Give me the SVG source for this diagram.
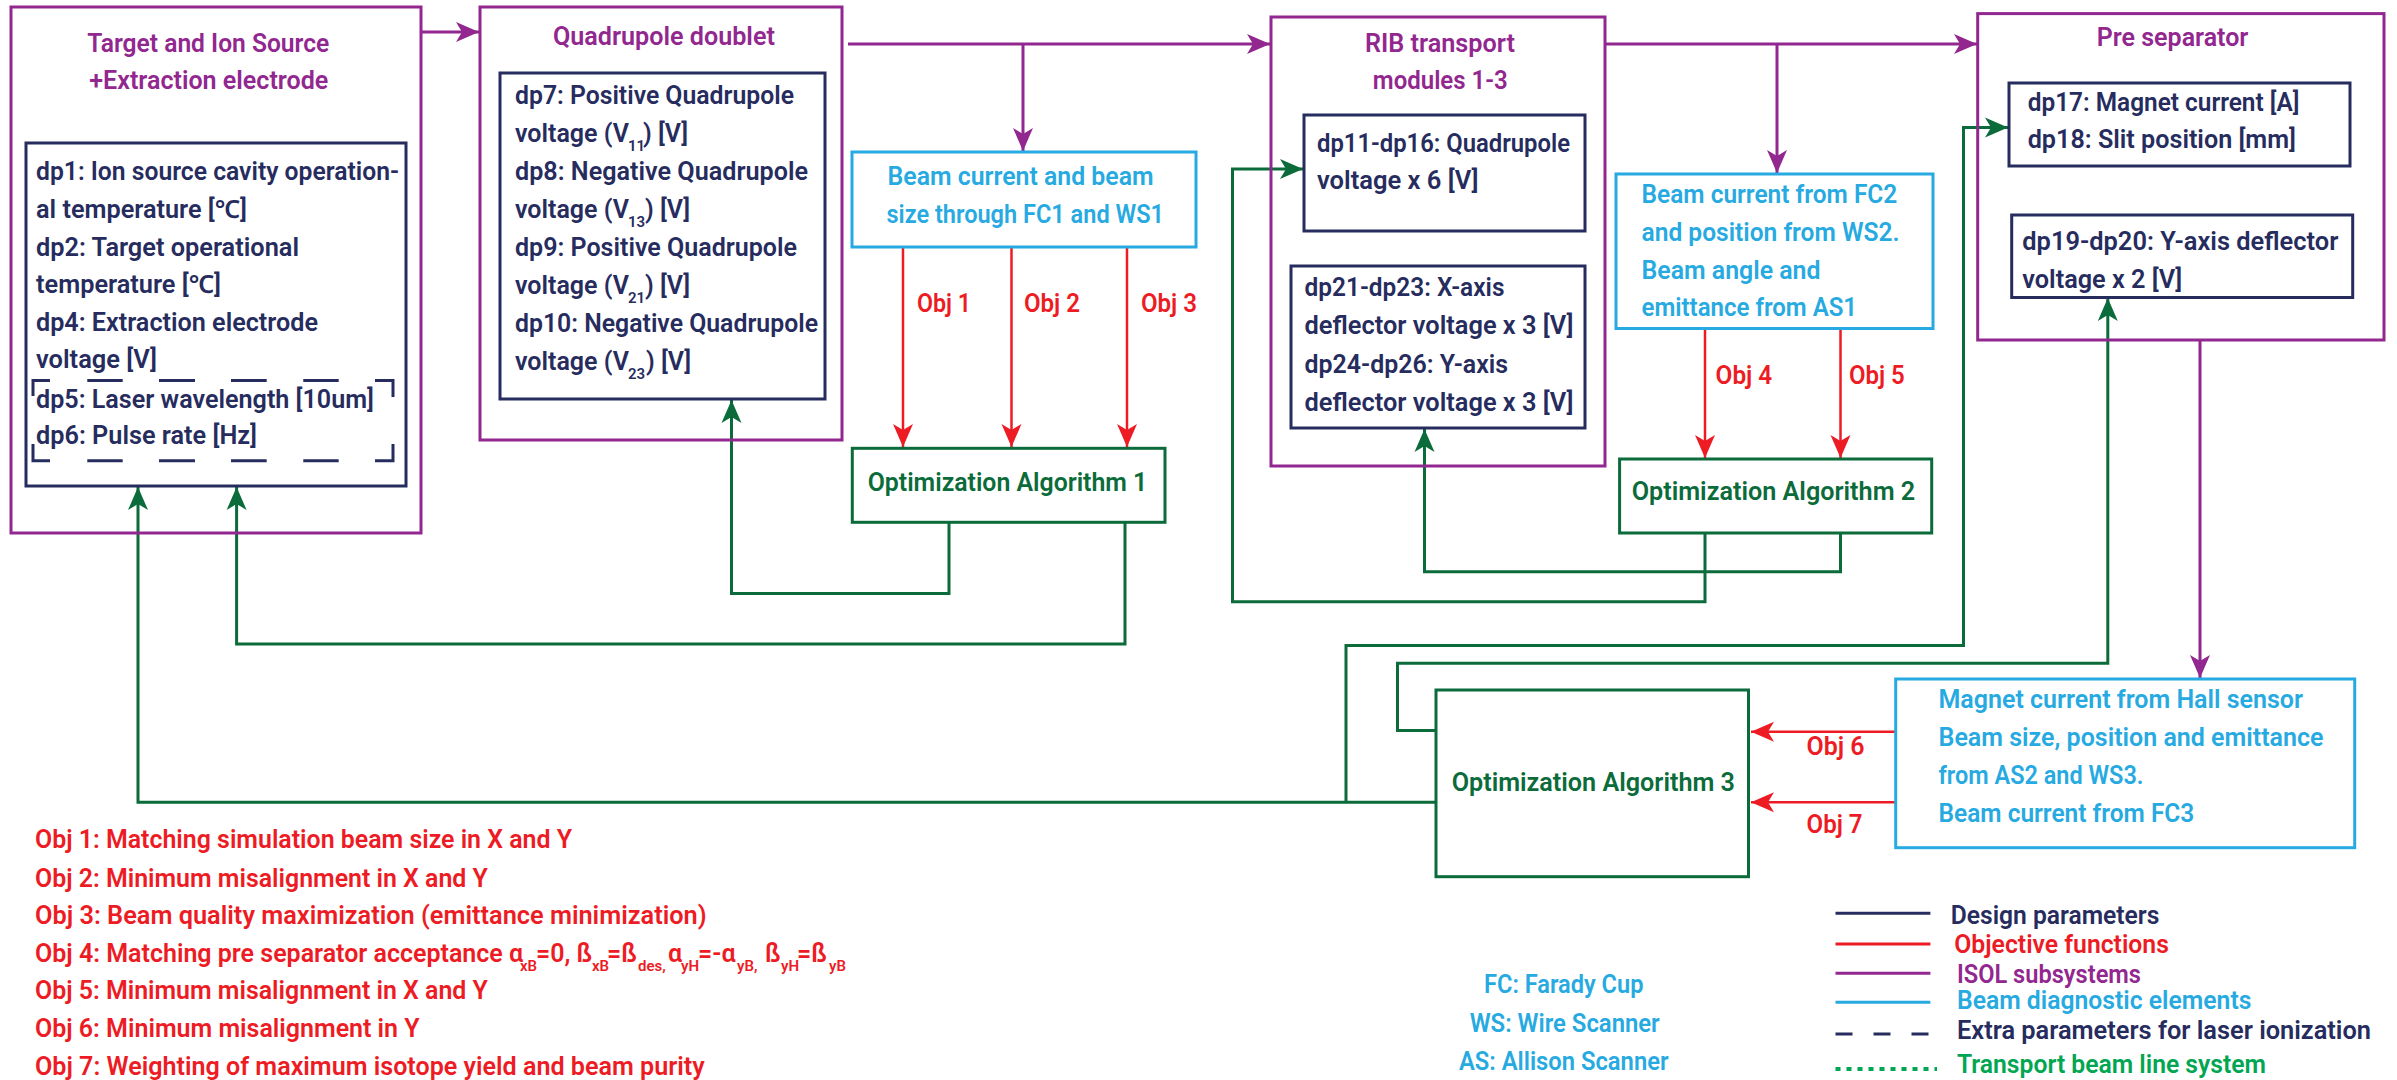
<svg xmlns="http://www.w3.org/2000/svg" width="2397" height="1080" viewBox="0 0 2397 1080">
<style>
.t{font-family:Roboto,"Noto Sans","Liberation Sans",sans-serif;font-size:25px;font-weight:600}
.s{font-size:15px}
.pu{fill:#92278f}.nv{fill:#262c5e}.rd{fill:#ed1c24}.cy{fill:#27aae1}.gr{fill:#0b6b3a}.bg{fill:#00a651}
.bxp{fill:none;stroke:#92278f;stroke-width:3}
.bxn{fill:none;stroke:#262c5e;stroke-width:3}
.bxc{fill:none;stroke:#27aae1;stroke-width:3}
.bxg{fill:none;stroke:#0b6b3a;stroke-width:3}
.cp{fill:none;stroke:#92278f;stroke-width:3;marker-end:url(#ap)}
.cr{fill:none;stroke:#ed1c24;stroke-width:2.5;marker-end:url(#ar)}
.cg{fill:none;stroke:#0b6b3a;stroke-width:3;marker-end:url(#ag)}
.dash{fill:none;stroke:#262c5e;stroke-width:3}
</style>
<defs>
<marker id="ap" markerUnits="userSpaceOnUse" markerWidth="24" markerHeight="22" viewBox="0 0 24 22" refX="23" refY="11" orient="auto"><path d="M0,1 L23,11 L0,21 L6,11 Z" fill="#92278f"/></marker>
<marker id="ar" markerUnits="userSpaceOnUse" markerWidth="24" markerHeight="22" viewBox="0 0 24 22" refX="23" refY="11" orient="auto"><path d="M0,1 L23,11 L0,21 L6,11 Z" fill="#ed1c24"/></marker>
<marker id="ag" markerUnits="userSpaceOnUse" markerWidth="24" markerHeight="22" viewBox="0 0 24 22" refX="23" refY="11" orient="auto"><path d="M0,1 L23,11 L0,21 L6,11 Z" fill="#0b6b3a"/></marker>
</defs>
<rect width="2397" height="1080" fill="#fff"/>

<g id="connectors">
<path class="cp" d="M421,32 H479"/>
<path class="cp" d="M848,44 H1270"/>
<path class="cp" d="M1023,44 V151"/>
<path class="cp" d="M1605,44 H1977"/>
<path class="cp" d="M1777,44 V173"/>
<path class="cp" d="M2200,340 V678"/>
<path class="cr" d="M903,247 V447"/>
<path class="cr" d="M1011.5,247 V447"/>
<path class="cr" d="M1127,247 V447"/>
<path class="cr" d="M1705,329 V458"/>
<path class="cr" d="M1840.5,329 V458"/>
<path class="cr" d="M1895,731.7 H1751"/>
<path class="cr" d="M1895,802.3 H1751"/>
<path class="cg" d="M949,522 V593.5 H731.5 V400"/>
<path class="cg" d="M1125,522 V644 H236.6 V487"/>
<path class="cg" d="M1705,533 V601.7 H1232.5 V169 H1303"/>
<path class="cg" d="M1840.5,533 V571.7 H1424.5 V429"/>
<path class="cg" d="M1435,802.3 H138 V487"/>
<path class="cg" d="M1346,802.3 V645.5 H1963.5 V127.5 H2008"/>
<path class="cg" d="M1435,730.5 H1397.5 V663.3 H2107.8 V298"/>
</g>

<g id="target-ion-source">
<rect class="bxp" x="11" y="7" width="410" height="526"/>
<text class="t pu" x="87.3" y="52" textLength="242" lengthAdjust="spacingAndGlyphs">Target and Ion Source</text>
<text class="t pu" x="89.3" y="89" textLength="239" lengthAdjust="spacingAndGlyphs">+Extraction electrode</text>
</g>
<g id="dp1-dp6">
<rect class="bxn" x="26" y="143" width="380" height="343"/>
<text class="t nv" x="36" y="180" textLength="363" lengthAdjust="spacingAndGlyphs">dp1: Ion source cavity operation-</text>
<text class="t nv" x="36" y="218" textLength="211" lengthAdjust="spacingAndGlyphs">al temperature [℃]</text>
<text class="t nv" x="36" y="255.5" textLength="263" lengthAdjust="spacingAndGlyphs">dp2: Target operational</text>
<text class="t nv" x="36" y="293" textLength="185" lengthAdjust="spacingAndGlyphs">temperature [℃]</text>
<text class="t nv" x="36" y="330.6" textLength="282" lengthAdjust="spacingAndGlyphs">dp4: Extraction electrode</text>
<text class="t nv" x="36" y="368" textLength="121" lengthAdjust="spacingAndGlyphs">voltage [V]</text>
<text class="t nv" x="36" y="408" textLength="338" lengthAdjust="spacingAndGlyphs">dp5: Laser wavelength [10um]</text>
<text class="t nv" x="36" y="444" textLength="221" lengthAdjust="spacingAndGlyphs">dp6: Pulse rate [Hz]</text>
<path class="dash" d="M33,396 V380.5 H50 M87.3,380.5 H122.7 M159,380.5 H195 M231,380.5 H266.7 M303.3,380.5 H338.7 M375,380.5 H393 V397 M33,444 V460.7 H50 M87.3,460.7 H122.7 M159,460.7 H195 M231,460.7 H266.7 M303.3,460.7 H338.7 M375,460.7 H393 V444"/>
</g>

<g id="quadrupole-doublet">
<rect class="bxp" x="480" y="7" width="362" height="433"/>
<text class="t pu" x="552.9" y="45" textLength="222" lengthAdjust="spacingAndGlyphs">Quadrupole doublet</text>
</g>
<g id="dp7-dp10">
<rect class="bxn" x="500" y="73" width="325" height="326"/>
<text class="t nv" x="515" y="104" textLength="279" lengthAdjust="spacingAndGlyphs">dp7: Positive Quadrupole</text>
<text class="t nv" y="142"><tspan x="515">voltage (V</tspan><tspan class="s" x="628" dy="9">11</tspan><tspan x="643" dy="-9">) [V]</tspan></text>
<text class="t nv" x="515" y="180" textLength="293" lengthAdjust="spacingAndGlyphs">dp8: Negative Quadrupole</text>
<text class="t nv" y="218"><tspan x="515">voltage (V</tspan><tspan class="s" x="628" dy="9">13</tspan><tspan x="645" dy="-9">) [V]</tspan></text>
<text class="t nv" x="515" y="256" textLength="282" lengthAdjust="spacingAndGlyphs">dp9: Positive Quadrupole</text>
<text class="t nv" y="294"><tspan x="515">voltage (V</tspan><tspan class="s" x="628" dy="9">21</tspan><tspan x="645" dy="-9">) [V]</tspan></text>
<text class="t nv" x="515" y="332" textLength="303" lengthAdjust="spacingAndGlyphs">dp10: Negative Quadrupole</text>
<text class="t nv" y="370"><tspan x="515">voltage (V</tspan><tspan class="s" x="628" dy="9">23</tspan><tspan x="646" dy="-9">) [V]</tspan></text>
</g>

<g id="diag-fc1-ws1">
<rect class="bxc" x="852" y="152" width="344" height="95"/>
<text class="t cy" x="887.6" y="185" textLength="266" lengthAdjust="spacingAndGlyphs">Beam current and beam</text>
<text class="t cy" x="886.5" y="223" textLength="277.5" lengthAdjust="spacingAndGlyphs">size through FC1 and WS1</text>
</g>
<g id="obj-labels-1">
<text class="t rd" x="917" y="312" textLength="54" lengthAdjust="spacingAndGlyphs">Obj 1</text>
<text class="t rd" x="1024" y="312" textLength="56" lengthAdjust="spacingAndGlyphs">Obj 2</text>
<text class="t rd" x="1141" y="312" textLength="56" lengthAdjust="spacingAndGlyphs">Obj 3</text>
</g>
<g id="opt-alg-1">
<rect class="bxg" x="852.3" y="448.3" width="312.7" height="74"/>
<text class="t gr" x="867.7" y="490.7" textLength="279.6" lengthAdjust="spacingAndGlyphs">Optimization Algorithm 1</text>
</g>

<g id="rib-transport">
<rect class="bxp" x="1271" y="17" width="334" height="449"/>
<text class="t pu" x="1365" y="52" textLength="150" lengthAdjust="spacingAndGlyphs">RIB transport</text>
<text class="t pu" x="1372.8" y="89" textLength="135" lengthAdjust="spacingAndGlyphs">modules 1-3</text>
</g>
<g id="dp11-dp16">
<rect class="bxn" x="1304" y="115" width="281" height="116"/>
<text class="t nv" x="1317" y="152" textLength="253" lengthAdjust="spacingAndGlyphs">dp11-dp16: Quadrupole</text>
<text class="t nv" x="1317" y="189" textLength="161.6" lengthAdjust="spacingAndGlyphs">voltage x 6 [V]</text>
</g>
<g id="dp21-dp26">
<rect class="bxn" x="1291" y="266" width="294" height="162"/>
<text class="t nv" x="1304.5" y="296" textLength="200" lengthAdjust="spacingAndGlyphs">dp21-dp23: X-axis</text>
<text class="t nv" x="1304.5" y="334" textLength="269" lengthAdjust="spacingAndGlyphs">deflector voltage x 3 [V]</text>
<text class="t nv" x="1304.5" y="373" textLength="203.6" lengthAdjust="spacingAndGlyphs">dp24-dp26: Y-axis</text>
<text class="t nv" x="1304.5" y="411" textLength="269" lengthAdjust="spacingAndGlyphs">deflector voltage x 3 [V]</text>
</g>

<g id="diag-fc2-ws2-as1">
<rect class="bxc" x="1616" y="174" width="317" height="154.5"/>
<text class="t cy" x="1641.5" y="203" textLength="255.8" lengthAdjust="spacingAndGlyphs">Beam current from FC2</text>
<text class="t cy" x="1641.5" y="241" textLength="258" lengthAdjust="spacingAndGlyphs">and position from WS2.</text>
<text class="t cy" x="1641.5" y="278.6" textLength="179" lengthAdjust="spacingAndGlyphs">Beam angle and</text>
<text class="t cy" x="1641.5" y="316" textLength="215.6" lengthAdjust="spacingAndGlyphs">emittance from AS1</text>
</g>
<g id="obj-labels-2">
<text class="t rd" x="1715.6" y="384" textLength="56.7" lengthAdjust="spacingAndGlyphs">Obj 4</text>
<text class="t rd" x="1849" y="384" textLength="55.8" lengthAdjust="spacingAndGlyphs">Obj 5</text>
</g>
<g id="opt-alg-2">
<rect class="bxg" x="1619.6" y="459" width="312.1" height="74"/>
<text class="t gr" x="1631.7" y="500" textLength="283.5" lengthAdjust="spacingAndGlyphs">Optimization Algorithm 2</text>
</g>

<g id="pre-separator">
<rect class="bxp" x="1977.7" y="13.6" width="406.3" height="326.4"/>
<text class="t pu" x="2096.7" y="45.7" textLength="151.7" lengthAdjust="spacingAndGlyphs">Pre separator</text>
</g>
<g id="dp17-dp18">
<rect class="bxn" x="2009" y="83" width="341" height="83"/>
<text class="t nv" x="2027.7" y="111" textLength="271.7" lengthAdjust="spacingAndGlyphs">dp17: Magnet current [A]</text>
<text class="t nv" x="2027.7" y="148" textLength="268.3" lengthAdjust="spacingAndGlyphs">dp18: Slit position [mm]</text>
</g>
<g id="dp19-dp20">
<rect class="bxn" x="2011.7" y="215" width="341" height="82.5"/>
<text class="t nv" x="2022.3" y="250" textLength="316" lengthAdjust="spacingAndGlyphs">dp19-dp20:  Y-axis deflector</text>
<text class="t nv" x="2022.3" y="287.5" textLength="160" lengthAdjust="spacingAndGlyphs">voltage x 2 [V]</text>
</g>

<g id="opt-alg-3">
<rect class="bxg" x="1436" y="690" width="312.5" height="186.7"/>
<text class="t gr" x="1451.7" y="790.7" textLength="283.3" lengthAdjust="spacingAndGlyphs">Optimization Algorithm 3</text>
</g>
<g id="diag-hall-as2-ws3-fc3">
<rect class="bxc" x="1895.7" y="679" width="459" height="168.7"/>
<text class="t cy" x="1938.5" y="708.3" textLength="364.5" lengthAdjust="spacingAndGlyphs">Magnet current from Hall sensor</text>
<text class="t cy" x="1938.5" y="746" textLength="385" lengthAdjust="spacingAndGlyphs">Beam size, position and emittance</text>
<text class="t cy" x="1938.5" y="784" textLength="205" lengthAdjust="spacingAndGlyphs">from AS2 and WS3.</text>
<text class="t cy" x="1938.5" y="821.7" textLength="255.8" lengthAdjust="spacingAndGlyphs">Beam current from FC3</text>
</g>
<g id="obj-labels-3">
<text class="t rd" x="1806.6" y="755" textLength="58" lengthAdjust="spacingAndGlyphs">Obj 6</text>
<text class="t rd" x="1806.6" y="833" textLength="56" lengthAdjust="spacingAndGlyphs">Obj 7</text>
</g>

<g id="objectives-list">
<text class="t rd" x="35" y="848" textLength="537" lengthAdjust="spacingAndGlyphs">Obj 1: Matching simulation beam size in  X and Y</text>
<text class="t rd" x="35" y="886.6" textLength="452.8" lengthAdjust="spacingAndGlyphs">Obj 2: Minimum misalignment in X and Y</text>
<text class="t rd" x="35" y="923.6" textLength="671.6" lengthAdjust="spacingAndGlyphs">Obj 3: Beam quality maximization (emittance minimization)</text>
<text class="t rd" y="961.7"><tspan x="35">Obj 4: Matching pre separator acceptance α</tspan><tspan class="s" x="520" dy="9">xB</tspan><tspan x="536" dy="-9">=0, ß</tspan><tspan class="s" x="592" dy="9">xB</tspan><tspan x="607" dy="-9">=ß</tspan><tspan class="s" x="638" dy="9">des,</tspan><tspan x="668" dy="-9">α</tspan><tspan class="s" x="681" dy="9">yH</tspan><tspan x="698" dy="-9">=-α</tspan><tspan class="s" x="737" dy="9">yB,</tspan><tspan x="765" dy="-9">ß</tspan><tspan class="s" x="781" dy="9">yH</tspan><tspan x="797" dy="-9">=ß</tspan><tspan class="s" x="829" dy="9">yB</tspan></text>
<text class="t rd" x="35" y="999.4" textLength="452.8" lengthAdjust="spacingAndGlyphs">Obj 5: Minimum misalignment in X and Y</text>
<text class="t rd" x="35" y="1037" textLength="384.6" lengthAdjust="spacingAndGlyphs">Obj 6: Minimum misalignment in Y</text>
<text class="t rd" x="35" y="1075" textLength="669.6" lengthAdjust="spacingAndGlyphs">Obj 7: Weighting of maximum isotope yield and beam purity</text>
</g>

<g id="abbreviations">
<text class="t cy" x="1484" y="993" textLength="159.5" lengthAdjust="spacingAndGlyphs">FC: Farady Cup</text>
<text class="t cy" x="1469.7" y="1032" textLength="190" lengthAdjust="spacingAndGlyphs">WS: Wire Scanner</text>
<text class="t cy" x="1459" y="1070" textLength="209.5" lengthAdjust="spacingAndGlyphs">AS: Allison Scanner</text>
</g>

<g id="legend">
<line x1="1835.5" y1="913.3" x2="1930.4" y2="913.3" stroke="#262c5e" stroke-width="3"/>
<line x1="1835.5" y1="944" x2="1930.4" y2="944" stroke="#ed1c24" stroke-width="3"/>
<line x1="1835.5" y1="973.3" x2="1930.4" y2="973.3" stroke="#92278f" stroke-width="3"/>
<line x1="1835.5" y1="1002.3" x2="1930.4" y2="1002.3" stroke="#27aae1" stroke-width="3"/>
<line x1="1835.5" y1="1034" x2="1930.4" y2="1034" stroke="#262c5e" stroke-width="3" stroke-dasharray="17 21"/>
<line x1="1835.5" y1="1069" x2="1937" y2="1069" stroke="#00a651" stroke-width="4" stroke-dasharray="5 6"/>
<text class="t nv" x="1950.7" y="924.3" textLength="208.7" lengthAdjust="spacingAndGlyphs">Design parameters</text>
<text class="t rd" x="1954.3" y="952.7" textLength="214.6" lengthAdjust="spacingAndGlyphs">Objective functions</text>
<text class="t pu" x="1957" y="982.7" textLength="184" lengthAdjust="spacingAndGlyphs">ISOL subsystems</text>
<text class="t cy" x="1957" y="1009" textLength="294.4" lengthAdjust="spacingAndGlyphs">Beam diagnostic elements</text>
<text class="t nv" x="1957" y="1039.3" textLength="414" lengthAdjust="spacingAndGlyphs">Extra parameters for laser ionization</text>
<text class="t bg" x="1957" y="1073.3" textLength="309" lengthAdjust="spacingAndGlyphs">Transport beam line system</text>
</g>
</svg>
